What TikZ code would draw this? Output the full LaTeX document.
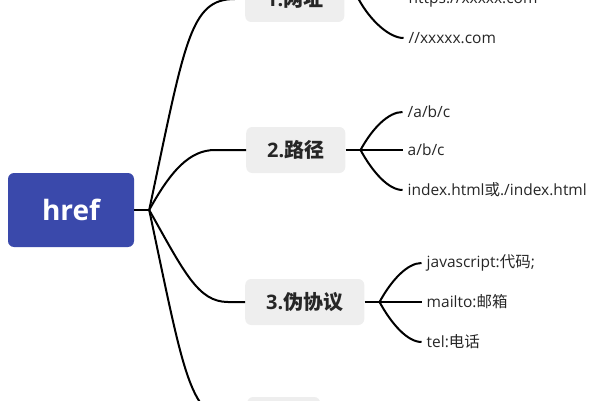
\documentclass[tikz,border=0pt]{standalone}
\usepackage{fontspec}
\setmainfont{Open Sans}
\newfontfamily\zh{Noto Sans CJK SC}
\definecolor{hrefblue}{RGB}{58,73,171}
\definecolor{topicgray}{RGB}{238,238,238}
\definecolor{ink}{RGB}{38,38,38}

\begin{document}
\begin{tikzpicture}[x=1pt,y=1pt,
	root/.style={fill=hrefblue,text=white,rounded corners=6pt,minimum width=126pt,minimum height=74pt,font=\fontsize{28}{30}\selectfont\bfseries},
	topic/.style={fill=topicgray,text=ink,rounded corners=6pt,anchor=west,minimum height=46pt,inner xsep=21pt,font=\fontsize{20}{22}\selectfont\bfseries},
	leaf/.style={anchor=west,inner xsep=5pt,text=ink,font=\fontsize{15.5}{17}\selectfont},
	link/.style={line width=2pt}]
			\useasboundingbox (0,0) rectangle (600,400);
			\clip (0,0) rectangle (600,400);
			\node[root] (href) at (71,190) {href};
			\node[topic] (t1) at (245,401) {1.{\zh 网址}};
			\node[topic] (t2) at (246,250) {2.{\zh 路径}};
			\node[topic] (t3) at (245,98) {3.{\zh 伪协议}};
			\node[topic,minimum width=73pt] (t4) at (247,-20) {};
			\coordinate (j0) at ([xshift=15pt]href.east);
			\coordinate (j1) at ([xshift=14pt]t1.east);
			\coordinate (j2) at ([xshift=15pt]t2.east);
			\coordinate (j3) at ([xshift=15pt]t3.east);
			\node[leaf] (l11) at ([xshift=45pt]j1) {https://xxxxx.com};
			\node[leaf] (l12) at ([xshift=45pt,yshift=-39pt]j1) {//xxxxx.com};
			\node[leaf] (l21) at ([xshift=42pt,yshift=38pt]j2) {/a/b/c};
			\node[leaf] (l22) at ([xshift=42pt]j2) {a/b/c};
			\node[leaf] (l23) at ([xshift=42pt,yshift=-40pt]j2) {index.html{\zh 或}./index.html};
			\node[leaf] (l31) at ([xshift=42pt,yshift=39pt]j3) {javascript:{\zh 代码};};
			\node[leaf] (l32) at ([xshift=42pt]j3) {mailto:{\zh 邮箱}};
			\node[leaf] (l33) at ([xshift=42pt,yshift=-40pt]j3) {tel:{\zh 电话}};
			\draw[link] (href.east) -- (j0);
			\draw[link] (j0) .. controls +(36,170) and +(-45,0) .. ([xshift=-10pt]t1.west) -- (t1.west);
			\draw[link] (j0) .. controls +(22,40) and +(-25,0) .. ([xshift=-31pt]t2.west) -- (t2.west);
			\draw[link] (j0) .. controls +(35,-62) and +(-30,0) .. ([xshift=-17pt]t3.west) -- (t3.west);
			\draw[link] (j0) .. controls +(36,-170) and +(-45,0) .. ([xshift=-12pt]t4.west) -- (t4.west);
			\draw[link] (t1.east) -- (j1) -- (l11.west);
			\draw[link] (j1) .. controls +(12,-22) and +(-14,0) .. (l12.west);
			\draw[link] (t2.east) -- (j2) -- (l22.west);
			\draw[link] (j2) .. controls +(12,22) and +(-14,0) .. (l21.west);
			\draw[link] (j2) .. controls +(12,-22) and +(-14,0) .. (l23.west);
			\draw[link] (t3.east) -- (j3) -- (l32.west);
			\draw[link] (j3) .. controls +(12,22) and +(-14,0) .. (l31.west);
			\draw[link] (j3) .. controls +(12,-22) and +(-14,0) .. (l33.west);
		\end{tikzpicture}
\end{document}
